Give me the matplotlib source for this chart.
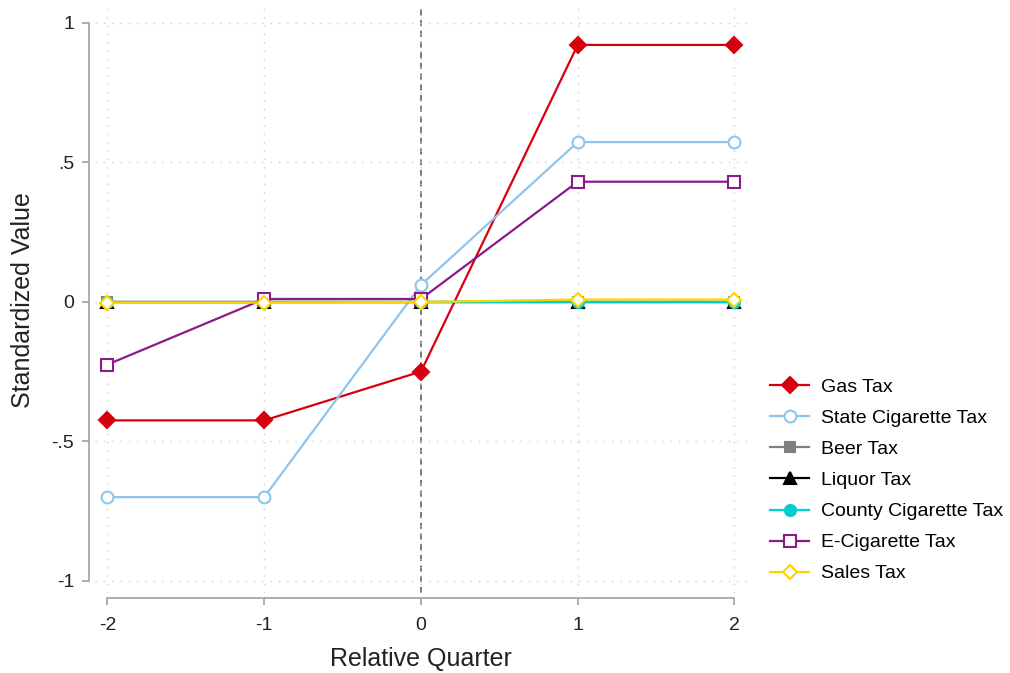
import matplotlib
matplotlib.use("Agg")
import matplotlib.pyplot as plt

plt.rcParams['font.family'] = ['Liberation Sans', 'DejaVu Sans']

quarters = [-2, -1, 0, 1, 2]
gas_tax = [-0.425, -0.425, -0.25, 0.92, 0.92]
state_cig_tax = [-0.70, -0.70, 0.06, 0.572, 0.572]
beer_tax = [0.0, 0.0, 0.0, 0.0, 0.0]
liquor_tax = [0.0, 0.0, 0.0, 0.0, 0.0]
county_cig_tax = [0.0, 0.0, 0.0, 0.0, 0.0]
ecig_tax = [-0.225, 0.01, 0.01, 0.43, 0.43]
sales_tax = [-0.003, -0.003, -0.001, 0.008, 0.008]

y_ticks = [-1, -0.5, 0, 0.5, 1]
y_tick_labels = ["-1", "-.5", "0", ".5", "1"]

series = [
    ("Gas Tax", gas_tax, dict(color="#d7000f", marker="D", markersize=8, mfc="#d7000f")),
    ("State Cigarette Tax", state_cig_tax, dict(color="#8ec5ec", marker="o", markersize=8.5, mfc="white")),
    ("Beer Tax", beer_tax, dict(color="#808080", marker="s", markersize=7.5, mfc="#808080")),
    ("Liquor Tax", liquor_tax, dict(color="black", marker="^", markersize=8, mfc="black")),
    ("County Cigarette Tax", county_cig_tax, dict(color="#00cfd0", marker="o", markersize=8, mfc="#00cfd0")),
    ("E-Cigarette Tax", ecig_tax, dict(color="#8b1a8b", marker="s", markersize=8.5, mfc="white")),
    ("Sales Tax", sales_tax, dict(color="#ffd200", marker="D", markersize=7, mfc="white")),
]

fig = plt.figure(figsize=(10.1, 6.73), dpi=100)
ax = fig.add_axes([0.094, 0.119, 0.6456, 0.869])

ax.axvline(0, color="#555555", linestyle=(0, (4, 3)), linewidth=1.1, zorder=1)

for name, vals, style in series:
    ax.plot(quarters, vals, label=name, linewidth=1.6, markeredgewidth=1.5,
            markeredgecolor=style["color"], zorder=3, **style)

ax.set_xlim(-2.08, 2.08)
ax.set_ylim(-1.043, 1.052)
ax.set_xticks(quarters)
ax.set_xticklabels([str(q) for q in quarters])
ax.set_yticks(y_ticks)
ax.set_yticklabels(y_tick_labels)

ax.grid(True, color="#cfcfcf", linestyle=(0, (1, 5)), linewidth=1.0, zorder=0)

for side in ["top", "right"]:
    ax.spines[side].set_visible(False)
for side in ["left", "bottom"]:
    ax.spines[side].set_color("#a8a8a8")
    ax.spines[side].set_linewidth(1.3)
    ax.spines[side].set_position(("outward", 4))
ax.spines["left"].set_bounds(-1, 1)
ax.spines["bottom"].set_bounds(-2, 2)

ax.tick_params(axis="both", colors="#a8a8a8", width=1.3, length=5,
               labelsize=14, labelcolor="#222222")
ax.tick_params(axis="x", pad=8)
ax.tick_params(axis="y", pad=6)

ax.set_xlabel("Relative Quarter", fontsize=18, color="#222222", labelpad=10)
ax.set_ylabel("Standardized Value", fontsize=18, color="#222222", labelpad=12)

ax.legend(loc="upper left", bbox_to_anchor=(0.755, 0.449), bbox_transform=fig.transFigure,
          frameon=False, fontsize=14, handlelength=2.0, handletextpad=0.6,
          labelspacing=0.69, borderaxespad=0)

fig.savefig("out.png", dpi=100)
